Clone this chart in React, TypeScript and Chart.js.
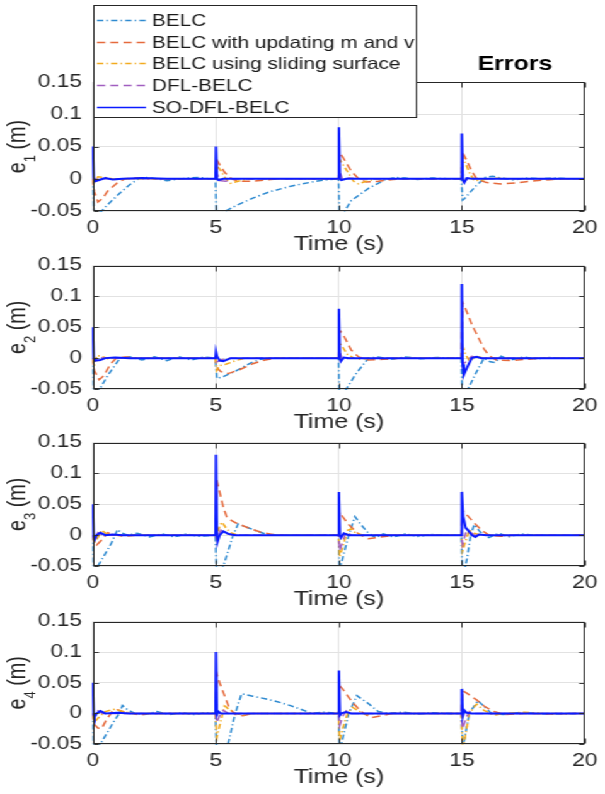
import React, { useEffect, useRef } from "react";
import { Chart, registerables } from "chart.js";

Chart.register(...registerables);

type Pt = [number, number];

// ---------------- DATA ----------------
const X_TICKS = [0, 5, 10, 15, 20];
const X_TICK_LABELS = ["0", "5", "10", "15", "20"];
const Y_TICKS = [-0.05, 0, 0.05, 0.1, 0.15];
const Y_TICK_LABELS = ["-0.05", "0", "0.05", "0.1", "0.15"];
const X_LABEL = "Time (s)";
const TITLE = "Errors";
const SERIES_NAMES = [
  "BELC",
  "BELC with updating m and v",
  "BELC using sliding surface",
  "DFL-BELC",
  "SO-DFL-BELC",
];
const PANEL_SUBSCRIPTS = ["1", "2", "3", "4"];

// e1
const E1_BELC: Pt[] = [[0,0],[0.05,-0.06],[0.3,-0.052],[0.6,-0.04],[1.1,-0.022],[1.5,-0.009],[1.85,0],[2.2,0.002],[2.6,0],[3,-0.003],[3.4,-0.001],[3.8,0.001],[4.3,0.002],[4.7,0],[4.98,0],[5.02,-0.06],[5.3,-0.052],[5.8,-0.042],[6.5,-0.03],[7.2,-0.02],[8,-0.012],[8.5,-0.008],[9.2,-0.003],[9.98,0],[10.03,-0.06],[10.15,-0.055],[10.5,-0.034],[11.2,-0.015],[11.85,-0.002],[12.3,0.002],[12.7,0.001],[13.2,-0.001],[13.8,0.001],[14.4,0],[14.98,0],[15.03,-0.033],[15.1,-0.031],[15.55,-0.012],[15.95,0.002],[16.25,0.004],[16.6,0.001],[17.1,-0.002],[17.6,0.001],[18.2,0],[18.8,0.001],[19.4,0],[20,0]];
const E1_UPD: Pt[] = [[0,0],[0.05,-0.02],[0.2,-0.036],[0.4,-0.03],[0.6,-0.019],[1.0,-0.006],[1.3,0],[1.7,0.001],[2.5,0],[4.98,0],[5.03,0.03],[5.15,0.022],[5.35,0.01],[5.6,0.001],[5.9,-0.004],[6.4,-0.004],[7,-0.002],[7.6,0],[9.98,0],[10.03,0.04],[10.15,0.034],[10.5,0.012],[10.8,0],[11.1,-0.005],[11.6,-0.004],[12.2,-0.001],[12.8,0],[14.98,0],[15.03,0.04],[15.15,0.032],[15.4,0.012],[15.6,0],[16,-0.006],[16.6,-0.008],[17.3,-0.006],[18,-0.003],[18.7,-0.001],[19.4,0],[20,0]];
const E1_SLD: Pt[] = [[0,0],[0.05,-0.008],[0.2,0.003],[0.5,0.002],[0.9,-0.001],[1.4,0],[4.98,0],[5.03,0.022],[5.2,0.012],[5.4,0],[5.6,-0.007],[5.9,-0.004],[6.3,0],[9.98,0],[10.03,0.03],[10.2,0.02],[10.4,0.008],[10.6,-0.004],[10.8,-0.008],[11.1,-0.004],[11.5,0],[14.98,0],[15.03,0.035],[15.15,0.024],[15.3,0.01],[15.5,-0.003],[15.8,-0.002],[16.3,0.001],[17,0],[20,0]];
const E1_DFL: Pt[] = [[0,0],[0.05,-0.004],[0.2,0.001],[0.5,0],[4.98,0],[5.03,0.01],[5.15,-0.003],[5.4,-0.004],[5.7,-0.001],[6,0],[9.98,0],[10.03,0.012],[10.15,-0.002],[10.4,0.001],[10.8,0],[14.98,0],[15.03,0.01],[15.1,-0.004],[15.3,0.002],[15.6,0],[20,0]];
const E1_SO: Pt[] = [[0,0.05],[0.03,0.002],[0.08,-0.004],[0.25,-0.002],[0.5,0.001],[0.8,-0.001],[1.2,0],[2,0.001],[3,0],[4.98,0],[5.0,0.05],[5.04,0],[5.1,-0.002],[5.3,0],[9.98,0],[10.0,0.08],[10.04,0],[10.1,-0.002],[10.3,0],[14.98,0],[15.0,0.07],[15.04,-0.002],[15.1,-0.006],[15.2,0.001],[15.4,0],[20,0]];

// e2
const E2_BELC: Pt[] = [[0,0],[0.04,-0.065],[0.2,-0.055],[0.6,-0.028],[1.1,0],[1.5,0.002],[2,-0.003],[2.5,0.002],[3,-0.004],[3.5,0.002],[4,-0.003],[4.5,0.002],[4.98,0],[5.03,-0.033],[5.3,-0.03],[5.85,-0.02],[6.4,-0.008],[6.8,-0.002],[7.3,0],[9.98,0],[10.03,-0.075],[10.3,-0.05],[10.7,-0.025],[11.2,0],[11.6,0.002],[12.1,-0.002],[12.7,0.002],[13.3,-0.001],[14,0.001],[14.98,0],[15.03,-0.075],[15.25,-0.05],[15.6,-0.022],[15.9,0],[16.15,-0.006],[16.35,-0.007],[16.6,0.003],[17,-0.003],[17.5,0.002],[18,-0.001],[18.5,0.001],[19.2,0],[20,0]];
const E2_UPD: Pt[] = [[0,0],[0.05,-0.02],[0.25,-0.035],[0.45,-0.028],[0.7,-0.01],[0.95,0],[1.3,0.002],[1.8,0],[4.98,0],[5.03,-0.015],[5.2,-0.022],[5.5,-0.025],[6,-0.018],[6.5,-0.009],[7,-0.003],[7.5,0],[9.98,0],[10.03,0.045],[10.15,0.04],[10.5,0.013],[10.8,0.002],[11.2,-0.003],[11.8,-0.002],[12.5,0],[14.98,0],[15.03,0.09],[15.15,0.08],[15.4,0.055],[15.65,0.035],[15.9,0.015],[16.1,0.004],[16.4,-0.003],[17,-0.004],[17.6,-0.002],[18.2,0],[20,0]];
const E2_SLD: Pt[] = [[0,0],[0.05,-0.012],[0.15,0.004],[0.35,0.003],[0.6,-0.001],[1,0],[4.98,0],[5.03,-0.02],[5.15,-0.012],[5.4,-0.01],[5.8,-0.004],[6.2,0],[9.98,0],[10.03,0.025],[10.15,0.018],[10.35,0.006],[10.6,0],[10.9,-0.002],[11.3,0],[14.98,0],[15.03,0.02],[15.15,0.006],[15.3,-0.004],[15.6,0.002],[16,0],[20,0]];
const E2_DFL: Pt[] = [[0,0],[0.05,-0.005],[0.2,0.001],[0.5,0],[4.98,0],[5.03,-0.006],[5.2,-0.003],[5.5,0],[9.98,0],[10.03,0.01],[10.15,-0.003],[10.4,0],[14.98,0],[15.03,-0.01],[15.2,-0.005],[15.4,0.003],[15.7,0],[20,0]];
const E2_SO: Pt[] = [[0,0.05],[0.03,0],[0.1,-0.004],[0.3,-0.003],[0.5,0],[0.9,0.001],[1.5,0],[4.98,0],[5.0,0.01],[5.04,0.003],[5.15,-0.004],[5.3,-0.005],[5.6,0],[9.98,0],[10.0,0.08],[10.04,0],[10.08,-0.005],[10.2,0.001],[10.4,0],[14.98,0],[15.0,0.12],[15.03,-0.01],[15.08,-0.027],[15.25,-0.012],[15.4,0],[15.6,0.002],[15.8,0],[20,0]];

// e3
const E3_BELC: Pt[] = [[0,0],[0.04,-0.07],[0.2,-0.05],[0.5,-0.03],[0.75,-0.013],[1.0,0.009],[1.15,0.004],[1.4,0],[1.8,0.003],[2.3,-0.003],[2.8,0.002],[3.3,-0.003],[3.8,0.002],[4.3,-0.002],[4.98,0],[5.03,-0.075],[5.3,-0.05],[5.5,-0.025],[5.7,0],[5.9,0.018],[6.5,0.009],[7,0.002],[7.5,0],[9.98,0],[10.03,-0.06],[10.1,-0.045],[10.4,0],[10.65,0.03],[10.9,0.017],[11.2,0.003],[11.5,-0.004],[11.8,0.002],[12.2,-0.003],[12.7,0.002],[13.2,-0.002],[13.7,0.001],[14.4,0],[14.98,0],[15.03,-0.07],[15.2,-0.04],[15.36,0],[15.5,0.017],[15.75,0.005],[16.1,-0.004],[16.5,0.003],[16.9,-0.003],[17.4,0.002],[18,0],[20,0]];
const E3_UPD: Pt[] = [[0,0],[0.05,-0.012],[0.15,-0.016],[0.35,-0.008],[0.6,0.004],[0.9,0],[1.3,-0.002],[1.8,0],[4.98,0],[5.03,0.09],[5.15,0.07],[5.3,0.045],[5.45,0.028],[5.8,0.02],[6.3,0.012],[6.8,0.005],[7.3,0.001],[7.8,0],[9.98,0],[10.03,0.037],[10.15,0.03],[10.4,0.017],[10.8,0.002],[11.2,-0.006],[11.7,-0.003],[12.3,0],[14.98,0],[15.03,0.04],[15.15,0.035],[15.5,0.02],[15.8,0.008],[16.1,0],[16.6,-0.002],[17.2,0],[20,0]];
const E3_SLD: Pt[] = [[0,0],[0.05,-0.012],[0.2,-0.004],[0.35,0.008],[0.55,0.002],[0.9,0],[4.98,0],[5.03,-0.005],[5.15,0.015],[5.25,0.021],[5.4,0.012],[5.6,0.004],[5.9,0],[9.98,0],[10.03,-0.035],[10.15,-0.02],[10.35,0.008],[10.5,0.01],[10.7,0.003],[11,0],[14.98,0],[15.03,-0.025],[15.15,-0.01],[15.3,0.008],[15.5,0.003],[15.8,0],[20,0]];
const E3_DFL: Pt[] = [[0,0],[0.05,-0.008],[0.2,0.004],[0.4,0],[4.98,0],[5.03,-0.006],[5.2,0.008],[5.4,0.003],[5.7,0],[9.98,0],[10.03,-0.025],[10.15,-0.01],[10.3,0.005],[10.5,0],[14.98,0],[15.03,-0.015],[15.15,0.003],[15.3,0.006],[15.5,0],[20,0]];
const E3_SO: Pt[] = [[0,0.05],[0.03,-0.002],[0.06,-0.008],[0.15,0],[0.3,0.004],[0.5,0],[0.8,0.001],[1.2,0],[4.98,0],[5.0,0.13],[5.04,0],[5.07,-0.01],[5.15,0],[5.3,0.006],[5.5,0.002],[5.8,0],[9.98,0],[10.0,0.07],[10.04,0],[10.08,-0.004],[10.2,0.003],[10.4,0],[14.98,0],[15.0,0.07],[15.05,0.03],[15.1,0.022],[15.15,0.012],[15.25,0.008],[15.4,0],[15.55,-0.003],[15.7,0.001],[16,0],[20,0]];

// e4
const E4_BELC: Pt[] = [[0,0],[0.04,-0.065],[0.3,-0.05],[0.6,-0.03],[0.87,-0.012],[1.07,0],[1.2,0.013],[1.4,0.006],[1.7,0],[2.1,-0.002],[2.6,0.003],[3.1,-0.002],[3.6,0.001],[4.1,-0.002],[4.6,0.001],[4.98,0],[5.03,-0.075],[5.3,-0.065],[5.5,-0.049],[5.77,-0.002],[6.04,0.032],[6.5,0.028],[7,0.024],[7.5,0.019],[8,0.013],[8.5,0.006],[8.9,0],[9.4,0.002],[9.98,0],[10.03,-0.06],[10.1,-0.05],[10.4,0],[10.73,0.029],[11.2,0.016],[11.6,0.003],[12,0],[12.6,0.002],[13.2,-0.001],[13.8,0.001],[14.5,0],[14.98,0],[15.03,-0.05],[15.1,-0.044],[15.3,0],[15.65,0.021],[16.2,0],[16.7,-0.002],[17.3,0.001],[18,0],[18.6,-0.001],[20,0]];
const E4_UPD: Pt[] = [[0,0],[0.05,-0.018],[0.2,-0.024],[0.35,-0.025],[0.55,-0.01],[0.8,0.004],[1.0,0.006],[1.3,0.002],[1.6,0],[1.9,-0.003],[2.3,0],[4.98,0],[5.03,0.065],[5.15,0.05],[5.3,0.034],[5.55,0.008],[5.8,-0.002],[6.1,-0.004],[6.5,0],[9.98,0],[10.03,0.045],[10.15,0.04],[10.53,0.019],[10.9,0.003],[11.3,-0.007],[11.7,-0.004],[12.2,0],[14.98,0],[15.03,0.037],[15.2,0.033],[15.6,0.022],[15.9,0.012],[16.3,0.003],[16.8,-0.002],[17.5,0],[18.5,-0.001],[20,0]];
const E4_SLD: Pt[] = [[0,0],[0.05,-0.015],[0.2,-0.008],[0.5,0.003],[0.9,0.007],[1.2,0.003],[1.6,0],[4.98,0],[5.03,-0.04],[5.15,-0.02],[5.35,0.012],[5.55,0.006],[5.8,0],[6.1,-0.003],[6.5,0],[9.98,0],[10.03,-0.045],[10.15,-0.025],[10.35,0],[10.55,0.01],[10.8,0.004],[11.1,-0.002],[11.5,0],[14.98,0],[15.03,-0.058],[15.15,-0.035],[15.3,0],[15.6,0.015],[15.9,0.005],[16.3,-0.003],[16.8,0],[17.5,0.002],[18.2,0],[20,0]];
const E4_DFL: Pt[] = [[0,0],[0.05,-0.006],[0.2,0.004],[0.4,0],[4.98,0],[5.03,-0.015],[5.15,-0.004],[5.3,0.005],[5.5,0],[9.98,0],[10.03,-0.02],[10.15,-0.005],[10.3,0.004],[10.5,0],[14.98,0],[15.03,-0.025],[15.15,-0.01],[15.3,0.003],[15.5,0],[20,0]];
const E4_SO: Pt[] = [[0,0.05],[0.03,-0.002],[0.06,-0.006],[0.15,0],[0.3,0.004],[0.5,0],[1,0.001],[1.5,0],[4.98,0],[5.0,0.1],[5.04,-0.002],[5.1,0.003],[5.2,0],[9.98,0],[10.0,0.07],[10.04,-0.003],[10.1,0],[10.3,0.002],[10.5,0],[14.98,0],[15.0,0.04],[15.04,-0.004],[15.1,0.005],[15.2,0.001],[15.4,0],[20,0]];

const PANEL_SERIES: Pt[][][] = [
  [E1_BELC, E1_UPD, E1_SLD, E1_DFL, E1_SO],
  [E2_BELC, E2_UPD, E2_SLD, E2_DFL, E2_SO],
  [E3_BELC, E3_UPD, E3_SLD, E3_DFL, E3_SO],
  [E4_BELC, E4_UPD, E4_SLD, E4_DFL, E4_SO],
];

// ---------------- STYLE / LAYOUT ----------------
const FONT = "'Liberation Sans', Arial, Helvetica, sans-serif";
const TEXT = "#262626";
const GRID = "#e2e2e2";
const SERIES_COLORS = ["#2E8AD0", "#E56A3C", "#F2AA1E", "#A15EC0", "#0B1BFF"];
const SERIES_WIDTHS = [1.5, 1.5, 1.5, 1.5, 2.0];
const SERIES_DASHES: number[][] = [[5, 2.5, 1.2, 2.5], [6.5, 4], [5, 2.5, 1.2, 2.5], [6.5, 4], []];

// The reference figure is horizontally stretched; draw at an inner width and stretch.
const PAGE_W = 605;
const PAGE_H = 794;
const INNER_W = 480;
const SX = PAGE_W / INNER_W;
const px = (v: number) => v / SX; // page x -> inner x

const PLOT_LEFT = 93;
const PLOT_RIGHT = 590;
const PLOT_TOPS = [82, 260, 437, 616];
const PLOT_H = [129, 129, 129, 128];
const X_AXIS_H = 50;
const PAD_TOP_REST = 14;
const TICK_FONT = 18;
const LABEL_FONT = 19.8;
const LEGEND_FONT = 16.5;

function makePlugin(idx: number) {
  return {
    id: "matlabFrame" + idx,
    afterDatasetsDraw(chart: any) {
      const { ctx, chartArea: a, scales } = chart;
      ctx.save();
      ctx.strokeStyle = TEXT;
      ctx.lineWidth = 0.9;
      const l = Math.round(a.left) + 0.5;
      const r = Math.round(a.right) - 0.5;
      const t = Math.round(a.top) + 0.5;
      const b = Math.round(a.bottom) - 0.5;
      ctx.beginPath();
      X_TICKS.forEach((v) => {
        const x = Math.round(scales.x.getPixelForValue(v)) + 0.5;
        ctx.moveTo(x, b); ctx.lineTo(x, b - 5);
        ctx.moveTo(x, t); ctx.lineTo(x, t + 5);
      });
      Y_TICKS.forEach((v) => {
        const y = Math.round(scales.y.getPixelForValue(v)) + 0.5;
        ctx.moveTo(l, y); ctx.lineTo(l + 4, y);
        ctx.moveTo(r, y); ctx.lineTo(r - 4, y);
      });
      ctx.stroke();
      ctx.lineWidth = 1;
      ctx.strokeRect(l, t, r - l, b - t);
      ctx.restore();
    },
    afterDraw(chart: any) {
      const { ctx, chartArea: a } = chart;
      ctx.save();
      // y-axis label with subscript
      const mainFont = `${LABEL_FONT}px ${FONT}`;
      const subFont = `13px ${FONT}`;
      ctx.font = mainFont;
      const wE = ctx.measureText("e").width;
      const wRest = ctx.measureText(" (m)").width;
      ctx.font = subFont;
      const wSub = ctx.measureText(PANEL_SUBSCRIPTS[idx]).width;
      const total = wE + wSub + wRest;
      const cy = (a.top + a.bottom) / 2;
      ctx.translate(px(25), cy + total / 2);
      ctx.rotate(-Math.PI / 2);
      ctx.fillStyle = TEXT;
      ctx.textBaseline = "alphabetic";
      ctx.textAlign = "left";
      ctx.font = mainFont;
      ctx.fillText("e", 0, 0);
      ctx.font = subFont;
      ctx.fillText(PANEL_SUBSCRIPTS[idx], wE, 8.5);
      ctx.font = mainFont;
      ctx.fillText(" (m)", wE + wSub, 0);
      ctx.restore();

      if (idx === 0) {
        ctx.save();
        // title
        ctx.font = `bold ${LABEL_FONT}px ${FONT}`;
        ctx.fillStyle = "#000";
        ctx.textAlign = "center";
        ctx.textBaseline = "alphabetic";
        ctx.fillText(TITLE, px(515), 70);
        // legend
        const bx = Math.round(px(93)) + 0.5, by = 5.5;
        const bw = Math.round(px(416) - px(93)), bh = 112;
        ctx.fillStyle = "#ffffff";
        ctx.fillRect(bx, by, bw, bh);
        ctx.strokeStyle = TEXT;
        ctx.lineWidth = 1;
        ctx.strokeRect(bx, by, bw, bh);
        ctx.font = `${LEGEND_FONT}px ${FONT}`;
        ctx.textAlign = "left";
        SERIES_NAMES.forEach((name, k) => {
          const yc = 20 + k * 21.7;
          ctx.save();
          ctx.strokeStyle = SERIES_COLORS[k];
          ctx.lineWidth = k === 4 ? 1.6 : 1.4;
          ctx.setLineDash(SERIES_DASHES[k]);
          ctx.beginPath();
          ctx.moveTo(px(97), Math.round(yc) + 0.5);
          ctx.lineTo(px(146), Math.round(yc) + 0.5);
          ctx.stroke();
          ctx.restore();
          ctx.fillStyle = "#1a1a1a";
          ctx.fillText(name, px(152), yc + 6);
        });
        ctx.restore();
      }
    },
  };
}

function Panel({ idx }: { idx: number }) {
  const ref = useRef<HTMLCanvasElement>(null);
  const padTop = idx === 0 ? PLOT_TOPS[0] : PAD_TOP_REST;
  const canvasTop = PLOT_TOPS[idx] - padTop;
  const height = padTop + PLOT_H[idx] + X_AXIS_H;

  useEffect(() => {
    const series = PANEL_SERIES[idx];
    const chart = new Chart(ref.current as HTMLCanvasElement, {
      type: "line",
      data: {
        datasets: series.map((pts, k) => ({
          label: SERIES_NAMES[k],
          data: pts.map(([x, y]) => ({ x, y })),
          borderColor: SERIES_COLORS[k],
          backgroundColor: SERIES_COLORS[k],
          borderWidth: SERIES_WIDTHS[k],
          borderDash: SERIES_DASHES[k],
          pointRadius: 0,
          tension: 0,
          fill: false,
          order: 4 - k,
          clip: 1,
        })),
      },
      options: {
        animation: false,
        responsive: false,
        events: [],
        layout: {
          autoPadding: false,
          padding: { top: padTop, left: 0, right: INNER_W - px(PLOT_RIGHT), bottom: 0 },
        },
        plugins: {
          legend: { display: false },
          tooltip: { enabled: false },
          title: { display: false },
        },
        scales: {
          x: {
            type: "linear",
            min: 0,
            max: 20,
            afterBuildTicks: (s: any) => {
              s.ticks = X_TICKS.map((v) => ({ value: v }));
            },
            afterFit: (s: any) => {
              s.height = X_AXIS_H;
            },
            ticks: {
              font: { family: FONT, size: TICK_FONT },
              color: TEXT,
              padding: 6,
              maxRotation: 0,
              autoSkip: false,
              callback: (_v: any, i: number) => X_TICK_LABELS[i],
            },
            grid: { color: GRID, lineWidth: 1, drawTicks: false },
            border: { display: false },
            title: {
              display: true,
              text: X_LABEL,
              font: { family: FONT, size: LABEL_FONT },
              color: TEXT,
              padding: { top: 0, bottom: 5 },
            },
          },
          y: {
            type: "linear",
            min: -0.05,
            max: 0.15,
            afterBuildTicks: (s: any) => {
              s.ticks = Y_TICKS.map((v) => ({ value: v }));
            },
            afterFit: (s: any) => {
              s.width = px(PLOT_LEFT);
            },
            ticks: {
              font: { family: FONT, size: TICK_FONT },
              color: TEXT,
              padding: 8.7,
              autoSkip: false,
              callback: (_v: any, i: number) => Y_TICK_LABELS[i],
            },
            grid: { color: GRID, lineWidth: 1, drawTicks: false },
            border: { display: false },
          },
        },
      } as any,
      plugins: [makePlugin(idx)],
    });
    return () => chart.destroy();
  }, [idx]);

  return (
    <canvas
      ref={ref}
      width={INNER_W}
      height={height}
      style={{ position: "absolute", left: 0, top: canvasTop, width: INNER_W, height, display: "block" }}
    />
  );
}

export default function App() {
  return (
    <div style={{ position: "absolute", left: 0, top: 0, width: PAGE_W, height: PAGE_H, background: "#ffffff", overflow: "hidden" }}>
      <div
        style={{
          position: "absolute",
          left: 0,
          top: 0,
          width: INNER_W,
          height: PAGE_H,
          transform: `scaleX(${SX})`,
          transformOrigin: "0 0",
        }}
      >
        {[0, 1, 2, 3].map((i) => (
          <Panel key={i} idx={i} />
        ))}
      </div>
    </div>
  );
}
